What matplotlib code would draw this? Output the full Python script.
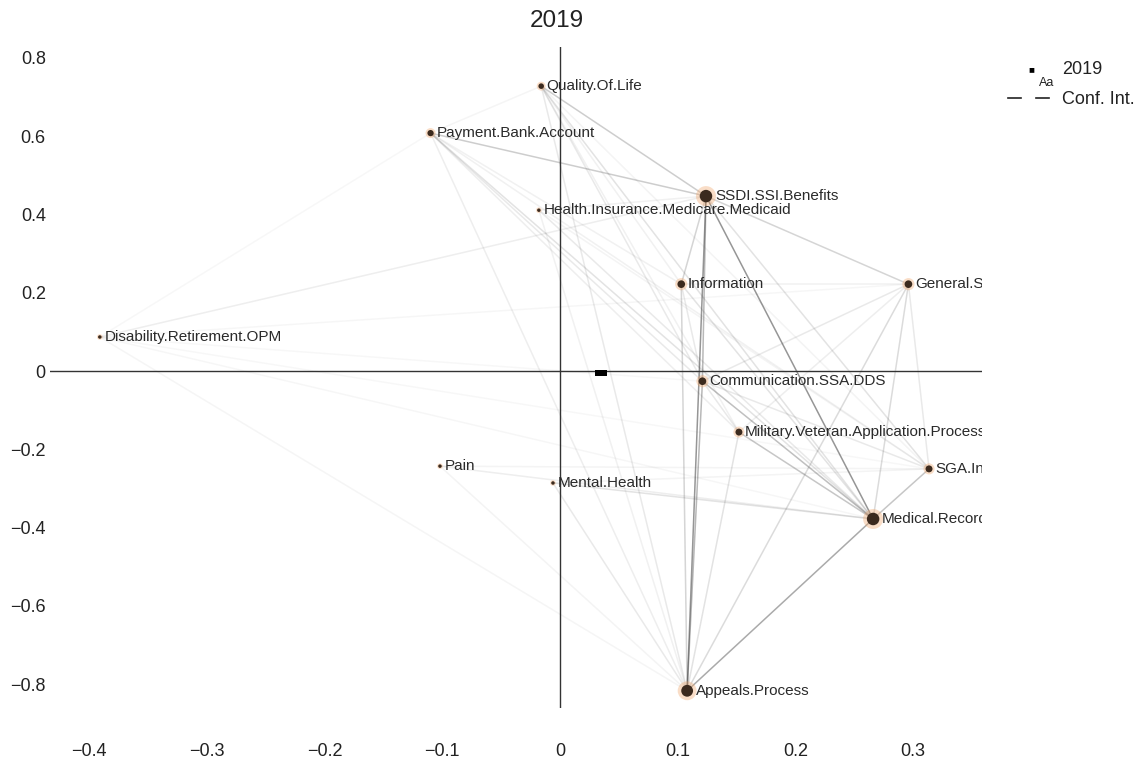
import matplotlib
matplotlib.use("Agg")
import matplotlib.pyplot as plt
from matplotlib.lines import Line2D

plt.rcParams['font.family'] = ['Liberation Sans', 'DejaVu Sans']

# node coordinates
labels = ['Quality.Of.Life', 'Payment.Bank.Account', 'SSDI.SSI.Benefits',
          'Health.Insurance.Medicare.Medicaid', 'Information', 'General.SSA.Questions',
          'Disability.Retirement.OPM', 'Communication.SSA.DDS',
          'Military.Veteran.Application.Process', 'Pain', 'Mental.Health',
          'SGA.Income', 'Medical.Records', 'Appeals.Process']
x_vals = [-0.016, -0.110, 0.124, -0.018, 0.103, 0.296, -0.391, 0.121,
          0.152, -0.102, -0.006, 0.3135, 0.266, 0.108]
y_vals = [0.728, 0.608, 0.447, 0.411, 0.222, 0.222, 0.087, -0.026,
          -0.156, -0.243, -0.286, -0.250, -0.378, -0.817]
node_size = [4, 4.5, 9, 2.5, 5.5, 5.5, 2.5, 5.5, 5, 2.5, 2.5, 5, 9, 8.5]

# edges: (from, to, strength)
edges = [
    (2, 12, 0.75), (2, 13, 0.75), (13, 12, 0.6), (2, 7, 0.5), (7, 13, 0.5),
    (7, 12, 0.45), (8, 12, 0.4), (11, 12, 0.4), (0, 2, 0.35), (1, 2, 0.35),
    (4, 13, 0.3), (2, 4, 0.3), (2, 5, 0.3), (5, 12, 0.25), (5, 13, 0.25),
    (5, 11, 0.15), (2, 11, 0.2), (0, 12, 0.2), (1, 12, 0.2), (1, 7, 0.15),
    (0, 7, 0.15), (0, 13, 0.15), (1, 13, 0.12), (3, 12, 0.15), (3, 13, 0.1),
    (10, 12, 0.2), (9, 12, 0.12), (9, 11, 0.08), (10, 13, 0.15), (9, 13, 0.08),
    (6, 2, 0.12), (6, 5, 0.06), (6, 12, 0.06), (6, 13, 0.07), (6, 7, 0.05),
    (6, 11, 0.05), (1, 6, 0.05), (0, 1, 0.07), (1, 8, 0.12), (0, 8, 0.1),
    (1, 11, 0.1), (0, 11, 0.08), (4, 12, 0.2), (4, 7, 0.15), (8, 13, 0.2),
    (7, 11, 0.15), (7, 8, 0.15), (5, 7, 0.15), (10, 11, 0.08), (3, 2, 0.1),
    (3, 11, 0.08), (4, 5, 0.1), (5, 8, 0.12), (0, 4, 0.1), (1, 4, 0.1),
]

center_x = [0.032, 0.037]
center_y = [-0.006, -0.004]

x_ticks = [-0.4, -0.3, -0.2, -0.1, 0, 0.1, 0.2, 0.3]
x_tick_labels = ['\u22120.4', '\u22120.3', '\u22120.2', '\u22120.1', '0', '0.1', '0.2', '0.3']
y_ticks = [0.8, 0.6, 0.4, 0.2, 0, -0.2, -0.4, -0.6, -0.8]
y_tick_labels = ['0.8', '0.6', '0.4', '0.2', '0', '\u22120.2', '\u22120.4', '\u22120.6', '\u22120.8']


def draw_graph() -> None:
    fig = plt.figure(figsize=(11.43, 7.61), dpi=100)
    ax = fig.add_axes([50 / 1143, 1 - 708 / 761, 932 / 1143, 661 / 761])
    ax.set_xlim(-0.4333, 0.3585)
    ax.set_ylim(-0.861, 0.828)

    for a, b, w in edges:
        ax.plot([x_vals[a], x_vals[b]], [y_vals[a], y_vals[b]],
                color='#444444', alpha=w * 0.75, lw=1.1, zorder=1)

    ax.axhline(0, color='#333333', lw=1, zorder=2)
    ax.axvline(0, color='#333333', lw=1, zorder=2)

    halo = [(s * 1.6) ** 2 for s in node_size]
    core = [s ** 2 for s in node_size]
    ax.scatter(x_vals, y_vals, s=halo, color='#f0a060', alpha=0.35, lw=0, zorder=3)
    ax.scatter(x_vals, y_vals, s=core, color='#3b2a1e', lw=0, zorder=4)

    for x, y, s, lab in zip(x_vals, y_vals, node_size, labels):
        ax.annotate(lab, (x, y), xytext=(s * 0.5 + 2, 0), textcoords='offset points',
                    va='center', ha='left', fontsize=11, color='#2a2a2a',
                    annotation_clip=True, clip_on=True, zorder=5)

    ax.scatter(center_x, center_y, marker='s', s=22, color='black', lw=0, zorder=6)

    ax.set_xticks(x_ticks)
    ax.set_xticklabels(x_tick_labels)
    ax.set_yticks(y_ticks)
    ax.set_yticklabels(y_tick_labels)
    ax.tick_params(axis='both', length=0, labelsize=13, colors='#222222')
    ax.tick_params(axis='x', pad=25)
    ax.tick_params(axis='y', pad=3)
    for sp in ax.spines.values():
        sp.set_visible(False)

    fig.text(557 / 1143, 1 - 21 / 761, '2019', fontsize=17.5, ha='center', va='center',
             color='#222222')

    # legend drawn by hand
    fig.text(1031 / 1143, 1 - 69 / 761, '\u25a0', fontsize=7, ha='center', va='center')
    fig.text(1047 / 1143, 1 - 83 / 761, 'Aa', fontsize=9, ha='center', va='center', color='#222222')
    fig.text(1062 / 1143, 1 - 70 / 761, '2019', fontsize=13, ha='left', va='center', color='#222222')
    for x0, x1 in [(1008, 1021), (1036, 1049)]:
        fig.add_artist(Line2D([x0 / 1143, x1 / 1143], [1 - 98 / 761, 1 - 98 / 761],
                              color='#222222', lw=1.2))
    fig.text(1062 / 1143, 1 - 99 / 761, 'Conf. Int.', fontsize=13, ha='left', va='center',
             color='#222222')

    fig.savefig('out.png', dpi=100)


def main() -> None:
    draw_graph()


if __name__ == '__main__':
    main()
